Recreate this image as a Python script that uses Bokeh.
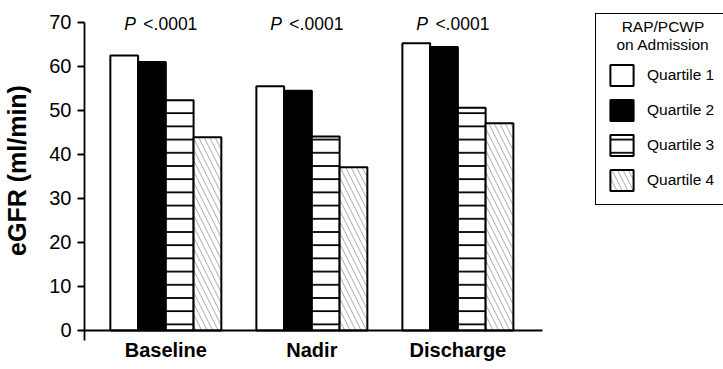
from bokeh.plotting import figure
from bokeh.models import (ColumnDataSource, Range1d, FixedTicker, Legend, LegendItem,
                          LinearAxis, Label)
from bokeh.transform import dodge
from bokeh.core.properties import value
from bokeh.embed import file_html
from bokeh.resources import INLINE

# ---- data ----
timepoints = ["Baseline", "Nadir", "Discharge"]
quartiles = ["Quartile 1", "Quartile 2", "Quartile 3", "Quartile 4"]
q1 = [62.5, 55.5, 65.3]
q2 = [61.0, 54.5, 64.4]
q3 = [52.3, 44.1, 50.6]
q4 = [43.9, 37.1, 47.1]
p_values = ["<.0001", "<.0001", "<.0001"]
y_ticks = [0, 10, 20, 30, 40, 50, 60, 70]
legend_title = "RAP/PCWP\non Admission"
y_label = "eGFR (ml/min)"

FONT = "Liberation Sans"
pval_y = 69.6

# group centres on a numeric scale (one unit per time point)
x_centers = [i + 0.5 for i in range(len(timepoints))]

src = ColumnDataSource(dict(x=x_centers, tp=timepoints, q1=q1, q2=q2, q3=q3, q4=q4, p=p_values))

p = figure(width=723, height=369, title=None,
           x_range=Range1d(-0.057, 4.319),
           y_range=Range1d(-2.3, 75.0),
           output_backend="svg", toolbar_location=None,
           min_border_left=83, min_border_right=0, min_border_top=0, min_border_bottom=29)

p.xgrid.visible = False
p.ygrid.visible = False
p.outline_line_color = None
p.background_fill_color = "white"

# y axis
p.yaxis.bounds = (-2.3, 70)
p.yaxis.ticker = FixedTicker(ticks=y_ticks)
p.yaxis.major_tick_out = 7
p.yaxis.major_tick_in = 0
p.yaxis.minor_tick_out = 0
p.yaxis.minor_tick_in = 0
p.yaxis.major_tick_line_width = 1.8
p.yaxis.axis_line_width = 1.8
p.yaxis.major_label_standoff = 6
p.yaxis.major_label_text_font = FONT
p.yaxis.major_label_text_font_size = "20px"
p.yaxis.major_label_text_color = "black"
p.yaxis.axis_label = y_label
p.yaxis.axis_label_text_font = FONT
p.yaxis.axis_label_text_font_size = "25px"
p.yaxis.axis_label_text_font_style = "bold"
p.yaxis.axis_label_text_color = "black"
p.yaxis.axis_label_standoff = 15

# x axis: category labels below
xax = p.xaxis[0]
xax.ticker = FixedTicker(ticks=x_centers)
xax.major_label_overrides = {c: t for c, t in zip(x_centers, timepoints)}
xax.axis_line_color = None
xax.major_tick_out = 0
xax.major_tick_in = 0
xax.minor_tick_out = 0
xax.minor_tick_in = 0
xax.major_label_standoff = -2
xax.major_label_text_font = FONT
xax.major_label_text_font_size = "20px"
xax.major_label_text_font_style = "bold"
xax.major_label_text_color = "black"

# x axis line at eGFR = 0
zero_axis = LinearAxis(ticker=FixedTicker(ticks=[]), fixed_location=0,
                       bounds=(-0.057, 3.081), axis_line_width=1.8, axis_line_color="black",
                       major_tick_out=0, minor_tick_out=0, major_tick_in=0, minor_tick_in=0)
p.add_layout(zero_axis, "below")

# bars
offsets = [-0.285, -0.095, 0.095, 0.285]
cols = ["q1", "q2", "q3", "q4"]
styles = [
    dict(fill_color="white"),
    dict(fill_color="black"),
    dict(fill_color="white", hatch_pattern="horizontal_line", hatch_color="black",
         hatch_scale=13.2, hatch_weight=1.8),
    dict(fill_color="white", hatch_pattern="left_diagonal_line", hatch_color="#a0a0a0",
         hatch_scale=11, hatch_weight=0.9),
]
renderers = []
for col, off, st in zip(cols, offsets, styles):
    r = p.vbar(x=dodge("x", off), top=col, width=0.19, source=src,
               line_color="black", line_width=2, **st)
    renderers.append(r)

# p-value labels
p.text(x="x", y=pval_y, text=value("P"), source=src, text_align="right", x_offset=-30,
       text_font=value(FONT), text_font_style="italic", text_font_size="17.5px",
       text_baseline="alphabetic", text_color="black")
p.text(x="x", y=pval_y, text="p", source=src, text_align="left", x_offset=-22.5,
       text_font=value(FONT), text_font_size="17.5px",
       text_baseline="alphabetic", text_color="black")

# legend title (centred, two lines)
p.add_layout(Label(x=578.5, y=322.5, x_units="screen", y_units="screen", text=legend_title,
                   text_align="center", text_baseline="top", text_font=FONT,
                   text_font_size="15.5px", text_color="black", text_line_height=1.07))

legend = Legend(items=[LegendItem(label=q, renderers=[r]) for q, r in zip(quartiles, renderers)],
                location=(511, 135), title=" ",
                padding=11, spacing=9, glyph_width=29, glyph_height=26, label_standoff=11,
                label_height=26, margin=0,
                border_line_color="black", border_line_width=1.6, border_line_alpha=1.0,
                background_fill_color=None,
                title_standoff=4,
                label_text_font=FONT, label_text_font_size="15.5px", label_text_color="black",
                title_text_font=FONT, title_text_font_size="28.5px", title_text_font_style="normal",
                title_text_color="black")
p.add_layout(legend, "center")

open("out.html", "w").write(file_html(p, INLINE))
